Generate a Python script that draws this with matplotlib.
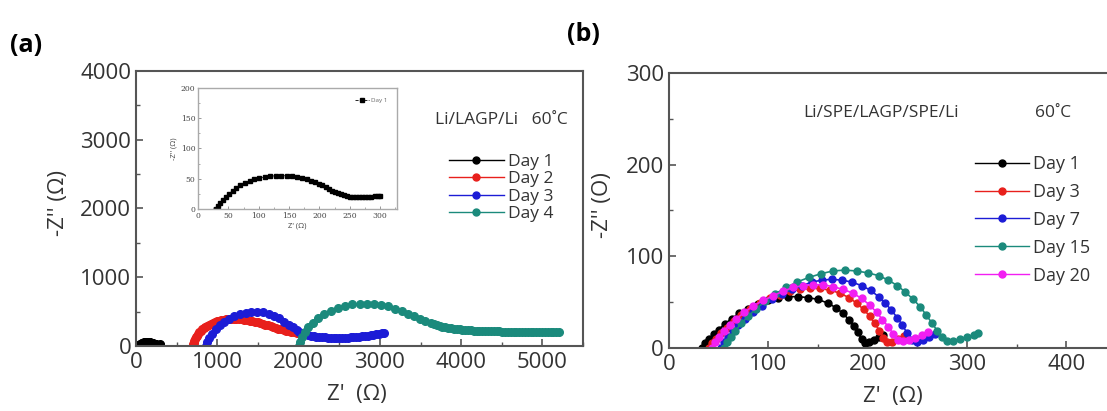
import numpy as np
import matplotlib
matplotlib.use("Agg")
import matplotlib.pyplot as plt
from matplotlib.ticker import MultipleLocator

plt.rcParams['font.family'] = ['Open Sans', 'DejaVu Sans']

# panel (a): Li/LAGP/Li, 60 C
a_day1_x = [30, 33, 37, 41, 46, 51, 57, 63, 70, 77, 85, 93, 101, 110, 119, 128, 137, 146, 155, 163,
            171, 179, 186, 193, 199, 205, 211, 216, 221, 226, 231, 236, 241, 246, 251, 256, 261, 266,
            271, 276, 281, 286, 291, 296, 300]
a_day1_y = [0, 5, 10, 15, 20, 25, 30, 35, 39, 43, 46, 49, 51, 53, 54, 55, 55, 55, 54, 53,
            51, 49, 47, 45, 42, 39, 36, 33, 30, 28, 26, 24, 22.5, 21.5, 20.5, 20, 19.5, 19.3,
            19.3, 19.5, 20, 20.5, 21, 21.5, 22]

a_day2_x = [700, 703, 708, 715, 724, 735, 748, 762, 778, 795, 813, 832, 852, 873, 895, 918, 942, 967,
            993, 1020, 1048, 1077, 1107, 1138, 1170, 1202, 1235, 1268, 1301, 1334, 1367, 1400, 1432,
            1464, 1496, 1528, 1560, 1592, 1624, 1656, 1688, 1720, 1752, 1784, 1816, 1848, 1880, 1912,
            1944, 1975, 2005, 2035]
a_day2_y = [0, 25, 50, 75, 100, 125, 150, 174, 197, 219, 240, 259, 277, 294, 309, 323, 336, 348,
            358, 367, 375, 382, 387, 391, 393, 394, 393, 391, 387, 382, 376, 369, 361,
            352, 342, 332, 321, 310, 298, 287, 275, 264, 253, 242, 232, 222, 213, 205,
            197, 190, 184, 179]

a_day3_x = [860, 875, 900, 935, 980, 1030, 1085, 1145, 1210, 1280, 1350, 1420, 1490, 1560, 1630, 1700,
            1765, 1825, 1880, 1930, 1975, 2010, 2045, 2080, 2115, 2150, 2185, 2220, 2255, 2290, 2325,
            2360, 2395, 2430, 2465, 2500, 2535, 2570, 2605, 2640, 2675, 2710, 2745, 2780, 2815, 2850,
            2885, 2920, 2955, 2990, 3025, 3050]
a_day3_y = [0, 60, 120, 180, 240, 300, 350, 395, 430, 460, 480, 492, 495, 488, 470, 440,
            400, 355, 310, 270, 235, 210, 190, 174, 161, 151, 143, 137, 132, 128, 125,
            123, 121, 120, 119, 119, 120, 121, 123, 125, 128, 131, 135, 139, 144, 149,
            155, 161, 168, 175, 183, 189]

a_day4_x = [2000, 2015, 2040, 2075, 2120, 2175, 2240, 2315, 2395, 2480, 2570, 2660, 2750, 2840, 2930,
            3020, 3105, 3190, 3270, 3345, 3420, 3490, 3560, 3630, 3665, 3700, 3735, 3770, 3805, 3840,
            3875, 3910, 3945, 3980, 4015, 4050, 4085, 4120, 4155, 4190, 4225, 4260, 4295, 4330, 4365,
            4400, 4435, 4470, 4505, 4540, 4575, 4610, 4645, 4680, 4715, 4750, 4785, 4820, 4855, 4890,
            4925, 4960, 4995, 5030, 5065, 5100, 5135, 5170, 5200]
a_day4_y = [0, 60, 130, 200, 270, 340, 405, 465, 515, 555, 585, 605, 615, 617, 612,
            598, 575, 545, 510, 470, 430, 392, 358, 328, 314, 302, 291, 281, 272, 264,
            257, 251, 246, 242, 238, 234, 231, 228, 225, 223, 221, 219, 217, 215, 214,
            213, 212, 211, 210, 209, 208, 207, 206, 206, 205, 205, 204, 204, 203, 203,
            203, 202, 202, 202, 202, 202, 202, 202, 202]

# panel (b): Li/SPE/LAGP/SPE/Li, 60 C
b_day1_x = [33, 36, 40, 45, 50, 56, 63, 71, 80, 90, 100, 110, 120, 130, 140, 150, 160, 168, 175, 181,
            186, 190, 194, 197, 201, 206, 211, 216]
b_day1_y = [0, 5, 10, 15, 20, 26, 32, 38, 43, 48, 52, 54, 56, 56, 55, 53, 49, 44, 38, 31,
            24, 17, 10, 5, 6, 9, 12, 14]
b_day3_x = [40, 43, 47, 52, 58, 65, 73, 82, 92, 102, 112, 122, 132, 142, 152, 162, 172, 181, 189, 196,
            202, 207, 212, 216, 220, 225, 231, 237]
b_day3_y = [0, 5, 10, 16, 22, 29, 36, 43, 49, 54, 58, 62, 64, 65, 65, 63, 60, 55, 49, 42,
            35, 27, 19, 11, 6, 7, 10, 13]
b_day7_x = [52, 55, 59, 64, 70, 77, 85, 94, 104, 114, 124, 134, 144, 154, 164, 174, 184, 194, 203, 211,
            218, 224, 230, 235, 240, 245, 250, 256, 262, 268]
b_day7_y = [0, 6, 12, 18, 25, 32, 39, 46, 53, 59, 64, 68, 72, 74, 75, 74, 72, 68, 63, 56,
            49, 41, 33, 25, 16, 9, 7, 9, 12, 15]
b_day15_x = [55, 58, 62, 67, 73, 80, 88, 97, 107, 118, 129, 141, 153, 165, 177, 189, 200, 211, 221, 230,
             238, 246, 253, 259, 265, 270, 275, 280, 286, 293, 300, 307, 311]
b_day15_y = [0, 6, 12, 19, 27, 35, 43, 51, 59, 66, 72, 77, 81, 84, 85, 84, 82, 79, 74, 68,
             61, 53, 45, 36, 27, 19, 12, 8, 8, 10, 12, 14, 16]
b_day20_x = [43, 46, 50, 55, 61, 68, 76, 85, 95, 105, 115, 125, 135, 145, 155, 165, 175, 185, 194, 202,
             209, 215, 221, 226, 231, 236, 242, 248, 255, 261]
b_day20_y = [0, 6, 12, 18, 25, 32, 39, 46, 52, 57, 62, 66, 68, 69, 69, 67, 64, 60, 54, 47,
             39, 31, 23, 15, 9, 8, 9, 11, 14, 17]

black = '#000000'
red = '#e8201c'
blue = '#1c1cd6'
teal = '#1b8a7c'
magenta = '#f21ef2'
spine_c = '#555555'
txt_c = '#333333'

fig = plt.figure(figsize=(11.07, 4.11), dpi=100)


def style(ax, xmaj, xmin, ymaj, ymin, fs=16):
    for s in ax.spines.values():
        s.set_color(spine_c)
        s.set_linewidth(1.5)
    ax.xaxis.set_major_locator(MultipleLocator(xmaj))
    ax.xaxis.set_minor_locator(MultipleLocator(xmin))
    ax.yaxis.set_major_locator(MultipleLocator(ymaj))
    ax.yaxis.set_minor_locator(MultipleLocator(ymin))
    ax.tick_params(which='both', direction='in', colors=spine_c, labelcolor=txt_c, labelsize=fs)
    ax.tick_params(which='major', length=5, width=1.2)
    ax.tick_params(which='minor', length=3, width=1.0)
    ax.tick_params(axis='x', pad=4)


# ---- panel (a)
ax1 = fig.add_axes([0.1229, 0.1582, 0.4038, 0.6691])
kw = dict(marker='o', markersize=5.5, linewidth=1.2)
ax1.plot(a_day1_x, a_day1_y, color=black, label='Day 1', **kw)
ax1.plot(a_day2_x, a_day2_y, color=red, label='Day 2', **kw)
ax1.plot(a_day3_x, a_day3_y, color=blue, label='Day 3', **kw)
ax1.plot(a_day4_x, a_day4_y, color=teal, label='Day 4', **kw)
ax1.set_xlim(0, 5500)
ax1.set_ylim(0, 4000)
style(ax1, 1000, 500, 1000, 500)
ax1.set_xlabel("Z'  (\u03a9)", fontsize=16, color=txt_c)
ax1.set_ylabel("-Z'' (\u03a9)", fontsize=16, color=txt_c)
ax1.xaxis.set_label_coords(0.494, -0.14)
ax1.yaxis.set_label_coords(-0.15, 0.52)
ax1.text(0.668, 0.82, 'Li/LAGP/Li   60\u02daC', transform=ax1.transAxes, fontsize=12.5,
         color=txt_c, va='center')
leg1 = ax1.legend(loc='upper left', bbox_to_anchor=(0.68, 0.73), frameon=False, fontsize=12.5,
                  handlelength=3.2, handletextpad=0.2, labelspacing=0.07, borderpad=0,
                  labelcolor=txt_c)
for h in leg1.legend_handles:
    h.set_markersize(5)
    h.set_linewidth(1.0)

# inset
axi = fig.add_axes([0.1789, 0.4915, 0.1797, 0.2944])
axi.plot(a_day1_x, a_day1_y, color=black, marker='s', markersize=2.2, linewidth=0.6,
         linestyle='--', label='Day 1')
axi.set_xlim(0, 328)
axi.set_ylim(0, 200)
for s in axi.spines.values():
    s.set_color('#aaaaaa')
    s.set_linewidth(1.0)
axi.xaxis.set_major_locator(MultipleLocator(50))
axi.xaxis.set_minor_locator(MultipleLocator(25))
axi.yaxis.set_major_locator(MultipleLocator(50))
axi.yaxis.set_minor_locator(MultipleLocator(25))
axi.tick_params(which='both', direction='in', colors='#888888', labelcolor='#444444',
                labelsize=5.5, pad=2)
axi.tick_params(which='major', length=2.5, width=0.6)
axi.tick_params(which='minor', length=1.5, width=0.5)
for lab in axi.get_xticklabels() + axi.get_yticklabels():
    lab.set_family('DejaVu Serif')
axi.set_xlabel("Z' (\u03a9)", fontsize=5.5, color='#444444', labelpad=2)
axi.set_ylabel("-Z'' (\u03a9)", fontsize=5.5, color='#444444', labelpad=2)
axi.legend(loc='upper right', frameon=False, fontsize=4.5, handlelength=2.2,
           handletextpad=0.3, borderaxespad=1.2, labelcolor='#666666')

# ---- panel (b)
ax2 = fig.add_axes([0.6043, 0.1533, 0.4037, 0.6691])
kw2 = dict(marker='o', markersize=5, linewidth=1.2)
ax2.plot(b_day1_x, b_day1_y, color=black, label='Day 1', **kw2)
ax2.plot(b_day3_x, b_day3_y, color=red, label='Day 3', **kw2)
ax2.plot(b_day7_x, b_day7_y, color=blue, label='Day 7', **kw2)
ax2.plot(b_day15_x, b_day15_y, color=teal, label='Day 15', **kw2)
ax2.plot(b_day20_x, b_day20_y, color=magenta, label='Day 20', **kw2)
ax2.set_xlim(0, 450)
ax2.set_ylim(0, 300)
style(ax2, 100, 50, 100, 50)
ax2.set_xlabel("Z'  (\u03a9)", fontsize=16, color=txt_c)
ax2.set_ylabel("-Z'' (O)", fontsize=16, color=txt_c)
ax2.xaxis.set_label_coords(0.50, -0.14)
ax2.yaxis.set_label_coords(-0.125, 0.52)
ax2.text(0.30, 0.855, 'Li/SPE/LAGP/SPE/Li', transform=ax2.transAxes, fontsize=12.5,
         color=txt_c, va='center')
ax2.text(0.818, 0.855, '60\u02daC', transform=ax2.transAxes, fontsize=12.5,
         color=txt_c, va='center')
leg2 = ax2.legend(loc='upper left', bbox_to_anchor=(0.665, 0.735), frameon=False, fontsize=13,
                  handlelength=3.0, handletextpad=0.2, labelspacing=0.55, borderpad=0,
                  labelcolor=txt_c)
for h in leg2.legend_handles:
    h.set_markersize(5)
    h.set_linewidth(1.0)

fig.text(0.009, 0.89, '(a)', fontsize=18, fontweight='bold', va='center')
fig.text(0.512, 0.915, '(b)', fontsize=18, fontweight='bold', va='center')

fig.savefig('out.png', dpi=100)
